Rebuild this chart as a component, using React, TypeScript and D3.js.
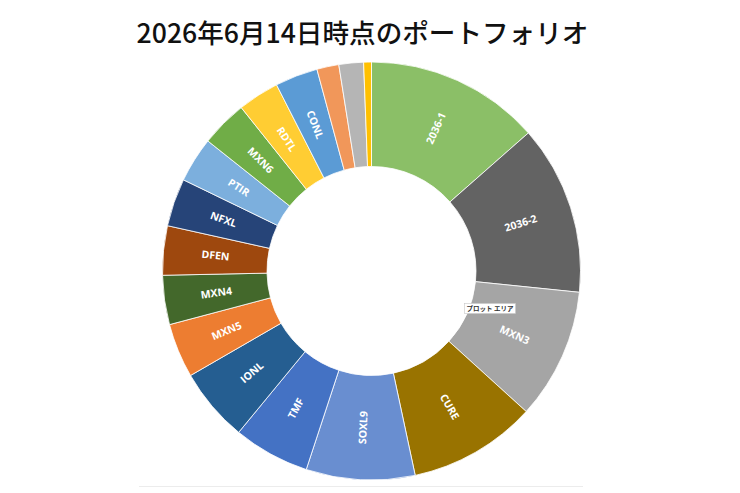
import React, { useEffect, useRef } from "react";
import * as d3 from "d3";

const title = "2026年6月14日時点のポートフォリオ";

// clockwise from 12 o'clock, as in the reference
const tickers = [
  "2036-1", "2036-2", "MXN3", "CURE", "SOXL9", "TMF", "IONL", "MXN5", "MXN4",
  "DFEN", "NFXL", "PTIR", "MXN6", "RDTL", "CONL", "その他1", "その他2", "その他3",
];
const shares = [
  13.5, 13.1, 10.1, 9.9, 8.4, 5.9, 5.7, 4.2, 3.8,
  3.8, 3.7, 3.5, 3.6, 3.2, 3.3, 1.7, 1.9, 0.6,
];
const showLabel = [
  true, true, true, true, true, true, true, true, true,
  true, true, true, true, true, true, false, false, false,
];
const colors = [
  "#8BBF67", "#636363", "#A5A5A5", "#997300", "#698ED0", "#4472C4", "#255E91", "#ED7D31", "#43682B",
  "#9E480E", "#264478", "#7CAFDD", "#70AD47", "#FFCD33", "#5B9BD5", "#F1975A", "#B5B5B5", "#FFC000",
];

function App() {
  const ref = useRef<SVGSVGElement>(null);

  useEffect(() => {
    const svg = d3.select(ref.current);
    svg.selectAll("*").remove();

    const cx = 371.5;
    const cy = 271;
    const outer = 209;
    const inner = 104.5;

    svg
      .append("text")
      .attr("x", 362.5)
      .attr("y", 43)
      .attr("text-anchor", "middle")
      .attr("font-family", "'Noto Sans CJK JP', 'Noto Sans', sans-serif")
      .attr("font-size", 26.6)
      .attr("font-weight", 500)
      .attr("fill", "#111")
      .text(title);

    // faint sheet grid line under the chart
    svg
      .append("line")
      .attr("x1", 139)
      .attr("x2", 583)
      .attr("y1", 486.5)
      .attr("y2", 486.5)
      .attr("stroke", "#ececec")
      .attr("stroke-width", 1);

    const data = tickers.map((t, i) => ({ t, v: shares[i], c: colors[i], show: showLabel[i] }));

    const pie = d3
      .pie<any>()
      .sort(null)
      .value((d: any) => d.v);
    const arcs = pie(data);

    const arc = d3.arc<any>().innerRadius(inner).outerRadius(outer);

    const g = svg.append("g").attr("transform", "translate(" + cx + "," + cy + ")");

    g.selectAll("path")
      .data(arcs)
      .enter()
      .append("path")
      .attr("d", arc as any)
      .attr("fill", (d: any) => d.data.c)
      .attr("stroke", "#ffffff")
      .attr("stroke-width", 0.8);

    const labelR = (inner + outer) / 2;
    g.selectAll("text.lbl")
      .data(arcs.filter((d: any) => d.data.show))
      .enter()
      .append("text")
      .attr("class", "lbl")
      .attr("transform", (d: any) => {
        const a = (d.startAngle + d.endAngle) / 2;
        const x = labelR * Math.sin(a);
        const y = -labelR * Math.cos(a);
        let rot = (a * 180) / Math.PI - 90;
        if (rot > 90) rot -= 180;
        return "translate(" + x + "," + y + ") rotate(" + rot + ")";
      })
      .attr("text-anchor", "middle")
      .attr("dy", "0.35em")
      .attr("font-family", "'Open Sans', sans-serif")
      .attr("font-weight", 700)
      .attr("font-size", 10.5)
      .attr("fill", "#ffffff")
      .text((d: any) => d.data.t);

    // hover tooltip left over in the screenshot
    const tip = svg.append("g").attr("transform", "translate(464.5,303.5)");
    tip
      .append("rect")
      .attr("width", 51)
      .attr("height", 10)
      .attr("fill", "#ffffff")
      .attr("stroke", "#c8c8c8")
      .attr("stroke-width", 0.6);
    tip
      .append("text")
      .attr("x", 25.5)
      .attr("y", 7.5)
      .attr("text-anchor", "middle")
      .attr("font-family", "'Noto Sans CJK JP', sans-serif")
      .attr("font-size", 6.5)
      .attr("font-weight", 700)
      .attr("fill", "#333")
      .text("プロット エリア");
  }, []);

  return (
    <svg
      ref={ref}
      width={740}
      height={493}
      style={{ position: "fixed", left: 0, top: 0, background: "#fff" }}
    />
  );
}

export default App;
